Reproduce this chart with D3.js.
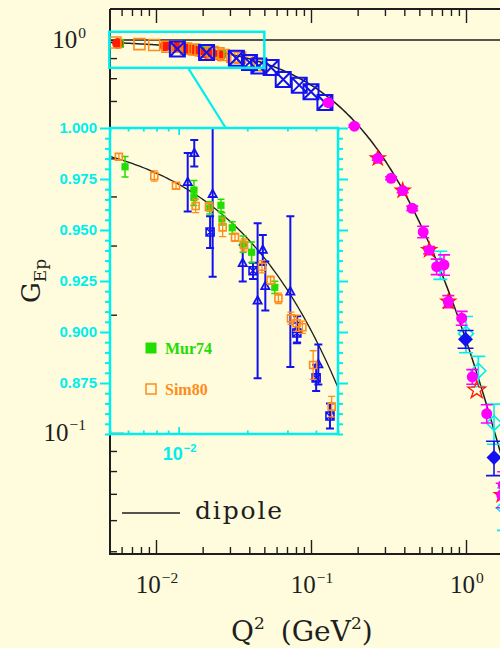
<!DOCTYPE html>
<html>
<head>
<meta charset="UTF-8">
<title>GEp</title>
<script src="https://cdn.jsdelivr.net/npm/d3@7"></script>
<style>
body { margin: 0; background: #fefcdc; }
</style>
</head>
<body>
<div id="chart"></div>
<script>
// ---- data ----
var mur74Q2  = [0.00582, 0.01167, 0.01167, 0.0137, 0.01533, 0.01548, 0.01718, 0.01917, 0.0209, 0.0264];
var mur74G   = [0.981, 0.9696, 0.966, 0.9608, 0.9621, 0.9554, 0.9511, 0.9431, 0.9391, 0.9219];
var mur74Err = [0.005, 0.0047, 0.004, 0.003, 0.003, 0.003, 0.003, 0.004, 0.005, 0.003];

var sim80Q2  = [0.00547, 0.00782, 0.00974, 0.01187, 0.01358, 0.0156, 0.01767, 0.01936, 0.0232, 0.0253, 0.0274, 0.0311, 0.0329, 0.0349, 0.0389, 0.0469];
var sim80G   = [0.9859, 0.9765, 0.9717, 0.9618, 0.9614, 0.9513, 0.9464, 0.9426, 0.932, 0.9254, 0.9165, 0.9067, 0.9043, 0.9023, 0.8838, 0.8634];
var sim80Err = [0.0015, 0.0025, 0.0015, 0.0033, 0.002, 0.0045, 0.002, 0.003, 0.003, 0.002, 0.0026, 0.003, 0.004, 0.003, 0.007, 0.005];

var triQ2  = [0.01096, 0.01171, 0.0141, 0.0191, 0.0222, 0.0234, 0.024, 0.0309, 0.0331, 0.041];
var triG   = [0.9734, 0.9876, 0.9676, 0.9337, 0.9153, 0.9402, 0.9225, 0.9198, 0.9013, 0.8841];
var triErr = [0.0143, 0.0065, 0.0405, 0.009, 0.038, 0.0074, 0.012, 0.037, 0.0064, 0.0098];

var xboxQ2  = [0.01374, 0.0212, 0.033, 0.0401, 0.0461, 0.0553, 0.0662, 0.084, 0.1, 0.123];
var xboxG   = [0.949, 0.93, 0.8995, 0.8775, 0.8588, 0.852, 0.794, 0.768, 0.739, 0.694];
var xboxErr = [0.0078, 0.004, 0.005, 0.0064, 0.0061, 0.006, 0.006, 0.006, 0.006, 0.006];

var redQ2 = [0.00566, 0.01143, 0.01263, 0.0136, 0.015, 0.01615, 0.0174, 0.01922, 0.02124, 0.02344, 0.02588];
var redG  = [0.981, 0.967, 0.967, 0.9615, 0.9525, 0.9486, 0.943, 0.934, 0.925, 0.92, 0.912];

var magQ2  = [0.1293, 0.1904, 0.3288, 0.4502, 0.5293, 0.647, 0.721, 0.938, 1.098, 1.361, 1.74];
var magG   = [0.693, 0.604, 0.445, 0.373, 0.325, 0.265, 0.268, 0.196, 0.139, 0.112, 0.0737];
var magErr = [0.004, 0.004, 0.004, 0.005, 0.011, 0.012, 0.016, 0.008, 0.006, 0.006, 0.006];

var starQ2  = [0.2697, 0.3904, 0.5785, 0.769, 1.70];
var starG   = [0.5, 0.414, 0.292, 0.216, 0.0695];
var starErr = [0.005, 0.005, 0.006, 0.0077, 0.005];

var cyanQ2  = [0.683, 1.0, 1.2, 1.516, 1.76];
var cyanG   = [0.268, 0.179, 0.144, 0.106, 0.0645];
var cyanErr = [0.022, 0.019, 0.0127, 0.0124, 0.008];

var bdiaQ2  = [0.993, 1.516];
var bdiaG   = [0.1733, 0.0866];
var bdiaErr = [0.009, 0.0087];

var ostarQ2 = [1.173];
var ostarG  = [0.1286];

var dipoleM2 = 0.71;
var zoomBox = { q: [0.005, 0.05], g: [0.85, 1.05], link: 0.0161 };
var insetYTicks = [0.875, 0.9, 0.925, 0.95, 0.975, 1.0];

// ---- setup ----
var bg = "#fefcdc", ink = "#1e1e1e";
var cOrange = "#ff8c1a", cGreen = "#22dd00", cBlue = "#1212f0", cMag = "#ff00ff", cRed = "#ff1a00", cCyan = "#00eeee";

var svg = d3.select("#chart").append("svg").attr("width", 500).attr("height", 648);
svg.append("rect").attr("width", 500).attr("height", 648).attr("fill", bg);

var x = d3.scaleLog().domain([0.00505, 10]).range([110, 621]);
var y = d3.scaleLog().domain([0.0492, 1.2]).range([554, 9]);
var xi = d3.scaleLog().domain([0.005, 0.05]).range([110, 338]);
var yi = d3.scaleLinear().domain([0.85, 1.0]).range([434, 128]);

var defs = svg.append("defs");
defs.append("clipPath").attr("id", "clipMain").append("rect").attr("x", 110).attr("y", 9).attr("width", 520).attr("height", 545);
defs.append("clipPath").attr("id", "clipIn").append("rect").attr("x", 110).attr("y", 128).attr("width", 228).attr("height", 306);

var isMajor = function(v) {
	var l = Math.log10(v);
	return Math.abs(l - Math.round(l)) < 1e-6;
};

// ---- main axes ----
var xt = x.ticks(), yt = y.ticks();
var xMaj = xt.filter(isMajor), xMin = xt.filter(function(v) { return !isMajor(v); });
var yMaj = yt.filter(isMajor), yMin = yt.filter(function(v) { return !isMajor(v); });

var styleAxis = function(g, color, w) {
	g.select(".domain").remove();
	g.selectAll(".tick line").attr("stroke", color).attr("stroke-width", w);
};

[[xMin, 7], [xMaj, 14]].forEach(function(p) {
	svg.append("g").attr("transform", "translate(0,554)").call(d3.axisBottom(x).tickValues(p[0]).tickSize(-p[1]).tickFormat("")).call(styleAxis, ink, 1.4);
	svg.append("g").attr("transform", "translate(0,9)").call(d3.axisTop(x).tickValues(p[0]).tickSize(-p[1]).tickFormat("")).call(styleAxis, ink, 1.4);
});
[[yMin, 7], [yMaj, 14]].forEach(function(p) {
	svg.append("g").attr("transform", "translate(110,0)").call(d3.axisLeft(y).tickValues(p[0]).tickSize(-p[1]).tickFormat("")).call(styleAxis, ink, 1.4);
});

svg.append("path").attr("d", "M110,9 L620,9 M110,9 L110,554 L620,554").attr("fill", "none").attr("stroke", ink).attr("stroke-width", 2);
// G = 1 reference line
svg.append("line").attr("x1", 110).attr("x2", 620).attr("y1", y(1)).attr("y2", y(1)).attr("stroke", ink).attr("stroke-width", 1.5);

var powLabel = function(g, px, py, exp, anchor, size, color, family, weight) {
	var t = g.append("text").attr("x", px).attr("y", py).attr("text-anchor", anchor)
		.attr("font-family", family).attr("font-size", size).attr("fill", color).attr("font-weight", weight || "normal");
	t.append("tspan").text("10");
	t.append("tspan").attr("dy", -size * 0.42).attr("dx", 1).attr("font-size", size * 0.62).text(exp);
	return t;
};

xMaj.forEach(function(v) {
	var e = Math.round(Math.log10(v));
	if (x(v) < 500) powLabel(svg, x(v) + 1, 593, e < 0 ? "\u2212" + (-e) : "" + e, "middle", 25, ink, "Liberation Serif");
});
yMaj.forEach(function(v) {
	var e = Math.round(Math.log10(v));
	powLabel(svg, 86, y(v) + 8, e < 0 ? "\u2212" + (-e) : "" + e, "end", 25, ink, "Liberation Serif");
});

// axis titles
var xt2 = svg.append("text").attr("x", 231).attr("y", 641).attr("font-family", "DejaVu Serif").attr("font-size", 28).attr("fill", ink);
xt2.append("tspan").text("Q");
xt2.append("tspan").attr("dy", -12).attr("font-size", 17).text("2");
xt2.append("tspan").attr("dy", 12).attr("dx", 16).text("(GeV");
xt2.append("tspan").attr("dy", -12).attr("font-size", 17).text("2");
xt2.append("tspan").attr("dy", 12).text(")");

var yt2 = svg.append("text").attr("transform", "translate(40,303) rotate(-90)").attr("font-family", "DejaVu Serif").attr("font-size", 26).attr("fill", ink);
yt2.append("tspan").text("G");
yt2.append("tspan").attr("dy", 6).attr("font-size", 17).text("Ep");

// dipole legend
svg.append("line").attr("x1", 122).attr("x2", 180).attr("y1", 513).attr("y2", 513).attr("stroke", ink).attr("stroke-width", 1.5);
svg.append("text").attr("x", 195).attr("y", 519).attr("font-family", "DejaVu Serif").attr("font-size", 25).attr("fill", ink)
	.attr("textLength", 87).attr("lengthAdjust", "spacing").text("dipole");

// ---- markers ----
var shapePath = function(shape, s) {
	if (shape === "square" || shape === "fsquare") return "M" + -s + "," + -s + "h" + 2 * s + "v" + 2 * s + "h" + -2 * s + "Z";
	if (shape === "xbox") return "M" + -s + "," + -s + "h" + 2 * s + "v" + 2 * s + "h" + -2 * s + "Z M" + -s + "," + -s + "L" + s + "," + s + "M" + s + "," + -s + "L" + -s + "," + s;
	if (shape === "tri") return "M0," + -s + "L" + s * 0.9 + "," + s * 0.65 + "L" + -s * 0.9 + "," + s * 0.65 + "Z";
	if (shape === "diamond") return "M0," + -s + "L" + s + ",0L0," + s + "L" + -s + ",0Z";
	if (shape === "star") return d3.symbol(d3.symbolStar, s * s * 1.2)();
	return d3.symbol(d3.symbolCircle, Math.PI * s * s)();
};

var drawSeries = function(g, Q, G, E, sx, sy, o) {
	var data = Q.map(function(q, i) { return { q: q, g: G[i], e: E ? E[i] : 0 }; });
	if (E) {
		var eb = g.append("g").attr("stroke", o.errColor || o.stroke || o.fill).attr("stroke-width", o.errW || 1.2).attr("fill", "none");
		data.forEach(function(d) {
			var x0 = sx(d.q), y1 = sy(d.g + d.e), y2 = sy(Math.max(d.g - d.e, 1e-4));
			eb.append("path").attr("d", "M" + x0 + "," + y1 + "V" + y2 + "M" + (x0 - o.cap) + "," + y1 + "h" + 2 * o.cap + "M" + (x0 - o.cap) + "," + y2 + "h" + 2 * o.cap);
		});
	}
	g.append("g").selectAll("path").data(data).enter().append("path")
		.attr("transform", function(d) { return "translate(" + sx(d.q) + "," + sy(d.g) + ")"; })
		.attr("d", shapePath(o.shape, o.size))
		.attr("fill", o.fill || "none")
		.attr("stroke", o.stroke || "none")
		.attr("stroke-width", o.sw || 0);
};

var dipole = function(q) { return 1 / Math.pow(1 + q / dipoleM2, 2); };

// ---- main plot ----
var main = svg.append("g").attr("clip-path", "url(#clipMain)");

var qGrid = d3.range(0, 301).map(function(i) { return 0.005 * Math.pow(10, i * 3.3 / 300); });
main.append("path").datum(qGrid).attr("fill", "none").attr("stroke", ink).attr("stroke-width", 1.5)
	.attr("d", d3.line().x(function(q) { return x(q); }).y(function(q) { return y(dipole(q)); }));

drawSeries(main, mur74Q2, mur74G, null, x, y, { shape: "fsquare", size: 4.5, fill: cGreen });
drawSeries(main, redQ2, redG, null, x, y, { shape: "circle", size: 5.5, fill: cRed });
drawSeries(main, sim80Q2, sim80G, null, x, y, { shape: "square", size: 5.5, stroke: cOrange, sw: 1.6 });
drawSeries(main, xboxQ2, xboxG, null, x, y, { shape: "xbox", size: 7.5, stroke: cBlue, sw: 2 });

drawSeries(main, cyanQ2, cyanG, cyanErr, x, y, { shape: "diamond", size: 7.5, stroke: cCyan, sw: 1.6, errW: 1.6, cap: 7 });
drawSeries(main, bdiaQ2, bdiaG, bdiaErr, x, y, { shape: "diamond", size: 7.5, fill: cBlue, errW: 1.6, cap: 8 });
drawSeries(main, starQ2, starG, starErr, x, y, { shape: "star", size: 9.5, fill: cRed, errColor: cMag, errW: 1.6, cap: 6 });
drawSeries(main, starQ2, starG, null, x, y, { shape: "circle", size: 5.5, fill: cMag });
drawSeries(main, magQ2, magG, magErr, x, y, { shape: "circle", size: 5.5, fill: cMag, errW: 1.6, cap: 6 });
drawSeries(main, ostarQ2, ostarG, null, x, y, { shape: "star", size: 9, stroke: cRed, sw: 1.3 });

// zoom rectangle and link to inset
svg.append("rect").attr("x", x(zoomBox.q[0])).attr("y", y(zoomBox.g[1]))
	.attr("width", x(zoomBox.q[1]) - x(zoomBox.q[0])).attr("height", y(zoomBox.g[0]) - y(zoomBox.g[1]))
	.attr("fill", "none").attr("stroke", cCyan).attr("stroke-width", 2.5);
svg.append("line").attr("x1", x(zoomBox.link)).attr("y1", y(zoomBox.g[0])).attr("x2", xi(zoomBox.link)).attr("y2", yi(1.0))
	.attr("stroke", cCyan).attr("stroke-width", 2.2);

// ---- inset ----
var yiMinor = d3.range(0, 31).map(function(i) { return 0.85 + i * 0.005; }).filter(function(v) {
	return insetYTicks.every(function(t) { return Math.abs(t - v) > 1e-6; });
});
var xiT = xi.ticks();
var xiMaj = xiT.filter(isMajor), xiMin = xiT.filter(function(v) { return !isMajor(v); });

svg.append("g").attr("transform", "translate(110,0)").call(d3.axisLeft(yi).tickValues(yiMinor).tickSize(5).tickFormat("")).call(styleAxis, cCyan, 2);
svg.append("g").attr("transform", "translate(338,0)").call(d3.axisRight(yi).tickValues(yiMinor).tickSize(5).tickFormat("")).call(styleAxis, cCyan, 2);
svg.append("g").attr("transform", "translate(338,0)").call(d3.axisRight(yi).tickValues(insetYTicks).tickSize(10).tickFormat("")).call(styleAxis, cCyan, 2);
var yiAx = svg.append("g").attr("transform", "translate(110,0)").call(d3.axisLeft(yi).tickValues(insetYTicks).tickSize(10).tickPadding(3).tickFormat(d3.format(".3f")));
yiAx.call(styleAxis, cCyan, 2);
yiAx.selectAll("text").attr("fill", cCyan).attr("font-family", "Liberation Sans").attr("font-weight", "bold").attr("font-size", 15);

[[xiMin, 3.5], [xiMaj, 7]].forEach(function(p) {
	svg.append("g").attr("transform", "translate(0,128)").call(d3.axisTop(xi).tickValues(p[0]).tickSize(-p[1]).tickFormat("")).call(styleAxis, cCyan, 1.8);
	svg.append("g").attr("transform", "translate(0,434)").call(d3.axisBottom(xi).tickValues(p[0]).tickSize(-p[1]).tickFormat("")).call(styleAxis, cCyan, 1.8);
});
xiMaj.forEach(function(v) {
	powLabel(svg, xi(v) + 1, 460, "\u2212" + (-Math.round(Math.log10(v))), "middle", 18, cCyan, "Liberation Sans", "bold");
});

var inset = svg.append("g").attr("clip-path", "url(#clipIn)");
var qGridIn = d3.range(0, 101).map(function(i) { return 0.005 * Math.pow(10, i / 100); });
inset.append("path").datum(qGridIn).attr("fill", "none").attr("stroke", ink).attr("stroke-width", 1.3)
	.attr("d", d3.line().x(function(q) { return xi(q); }).y(function(q) { return yi(dipole(q)); }));

drawSeries(inset, triQ2, triG, triErr, xi, yi, { shape: "tri", size: 4.5, stroke: cBlue, sw: 1.8, errW: 2, cap: 4 });
drawSeries(inset, xboxQ2, xboxG, xboxErr, xi, yi, { shape: "xbox", size: 4, stroke: cBlue, sw: 1.6, errW: 2, cap: 4 });
drawSeries(inset, mur74Q2, mur74G, mur74Err, xi, yi, { shape: "fsquare", size: 3.6, fill: cGreen, errW: 1.5, cap: 3.5 });
drawSeries(inset, sim80Q2, sim80G, sim80Err, xi, yi, { shape: "square", size: 3.5, stroke: cOrange, sw: 1.6, errW: 1.3, cap: 3.5 });

svg.append("rect").attr("x", 110).attr("y", 128).attr("width", 228).attr("height", 306)
	.attr("fill", "none").attr("stroke", cCyan).attr("stroke-width", 2.5);

// inset legend
var leg = svg.append("g").attr("font-family", "Liberation Serif").attr("font-weight", "bold").attr("font-size", 16);
leg.append("path").attr("transform", "translate(151,348)").attr("d", shapePath("fsquare", 5.5)).attr("fill", cGreen);
leg.append("text").attr("x", 165).attr("y", 354).attr("fill", cGreen).text("Mur74");
leg.append("path").attr("transform", "translate(151,389)").attr("d", shapePath("square", 5)).attr("fill", "none").attr("stroke", cOrange).attr("stroke-width", 1.5);
leg.append("text").attr("x", 165).attr("y", 395).attr("fill", cOrange).text("Sim80");
</script>
</body>
</html>
